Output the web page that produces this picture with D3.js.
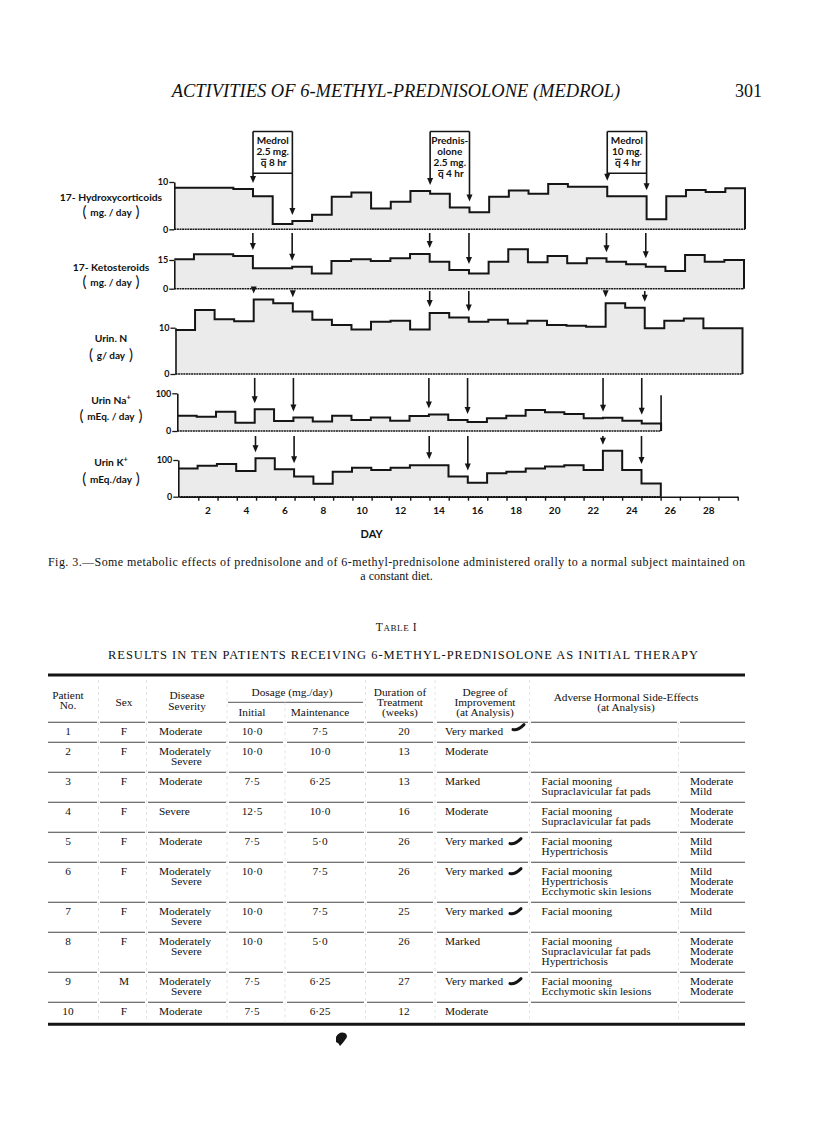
<!DOCTYPE html>
<html><head><meta charset="utf-8">
<script src="https://cdn.jsdelivr.net/npm/d3@7"></script>
<style>
body{margin:0;background:#fff;}
svg{display:block;}
.serif{font-family:"Liberation Serif","Times New Roman",serif;fill:#111;}
.lab{font-family:Lato,"DejaVu Sans",sans-serif;font-weight:700;fill:#111;}
</style></head><body>
<svg id="page" width="816" height="1131"></svg>
<script>
// ---- chart data, one value per day ----
var dayTicks = [2,4,6,8,10,12,14,16,18,20,22,24,26,28];
var hydroxy = [8.8,8.8,8.8,8.5,7.0,1.1,1.75,3.1,6.9,7.8,4.4,5.8,8.1,7.5,4.6,3.6,6.9,8.2,7.5,9.6,9.0,9.0,7.0,7.0,2.1,7.0,8.3,7.9,8.7];
var keto = [15.4,18.0,18.0,17.1,10.7,10.7,11.5,8.0,14.5,15.4,14.5,15.9,18.1,14.1,9.8,8.0,14.1,20.6,13.8,17.1,13.3,15.9,14.1,12.8,11.5,9.3,17.6,14.1,15.0];
var urinN = [9.5,13.8,11.8,11.4,16.1,15.3,13.5,11.7,10.6,9.6,11.3,11.5,9.6,13.2,12.2,11.3,11.7,10.9,11.5,10.6,10.4,10.2,15.3,14.3,9.9,11.5,12.0,9.9,9.9];
var urinNa = [40.6,38,51,22,57.5,26.5,36,25,40.6,29,36,27,40,44,29,24,34,40.6,56,50,45,34,35,27,20];
var urinK = [77,84,89,70,105,75,55,35,68,79,73,79,86,86,55,38,64,68,77,82,86,73,125,73,36];
// drug periods: start / end day boundaries
var doseChanges = [4,6,13,15,22,24];
var boxSpans = [[4,6],[13,15],[22,24]];
var boxText = [["Medrol","2.5 mg.","8 hr"],["Prednis-","olone","2.5 mg.","4 hr"],["Medrol","10 mg.","4 hr"]];

// ---- table data ----
var patientNo = ["1","2","3","4","5","6","7","8","9","10"];
var sex = ["F","F","F","F","F","F","F","F","M","F"];
var severity = ["Moderate","Moderately|Severe","Moderate","Severe","Moderate","Moderately|Severe","Moderately|Severe","Moderately|Severe","Moderately|Severe","Moderate"];
var initialDose = ["10·0","10·0","7·5","12·5","7·5","10·0","10·0","10·0","7·5","7·5"];
var maintDose = ["7·5","10·0","6·25","10·0","5·0","7·5","7·5","5·0","6·25","6·25"];
var duration = ["20","13","13","16","26","26","25","26","27","12"];
var improvement = ["Very marked","Moderate","Marked","Moderate","Very marked","Very marked","Very marked","Marked","Very marked","Moderate"];
var sideEffects = [[],[],["Facial mooning","Supraclavicular  fat  pads"],["Facial mooning","Supraclavicular  fat  pads"],["Facial mooning","Hypertrichosis"],["Facial mooning","Hypertrichosis","Ecchymotic skin lesions"],["Facial mooning"],["Facial mooning","Supraclavicular  fat  pads","Hypertrichosis"],["Facial mooning","Ecchymotic skin lesions"],[]];
var sideGrade = [[],[],["Moderate","Mild"],["Moderate","Moderate"],["Mild","Mild"],["Mild","Moderate","Moderate"],["Mild"],["Moderate","Moderate","Moderate"],["Moderate","Moderate"],[]];

var svg = d3.select("#page");
var ink = "#151515";

// page header
svg.append("text").attr("class","serif").attr("x",396).attr("y",97)
    .attr("text-anchor","middle").style("font-style","italic").style("font-size","18.5px")
    .text("ACTIVITIES OF 6-METHYL-PREDNISOLONE (MEDROL)");
svg.append("text").attr("class","serif").attr("x",762).attr("y",97)
    .attr("text-anchor","end").style("font-size","18px").text("301");

// ---- panels ----
var panels = [
    {name:["17- Hydroxycorticoids","mg. / day"], values:hydroxy, max:10, x0:174.3, x1:745, yTop:182, yBase:229.3, labelY:[201,217]},
    {name:["17- Ketosteroids","mg. / day"], values:keto, max:15, x0:174.3, x1:744, yTop:260, yBase:288.7, labelY:[271,287], arrowFrom:233},
    {name:["Urin. N","g/ day"], values:urinN, max:10, x0:175.5, x1:742.5, yTop:327.7, yBase:374, labelY:[342,360], arrowFrom:291},
    {name:["Urin Na","mEq. / day"], sup:"+", values:urinNa, max:100, x0:177.3, x1:738.5, yTop:393.3, yBase:431, labelY:[404,421], arrowFrom:378, edgeTo:95},
    {name:["Urin K","mEq./day"], sup:"+", values:urinK, max:100, x0:178.3, x1:738, yTop:460, yBase:496.7, labelY:[466,484], arrowFrom:436}
];

function arrow(g, x, yFrom, yTip) {
    g.append("line").attr("x1",x).attr("x2",x).attr("y1",yFrom).attr("y2",yTip-5)
        .attr("stroke",ink).attr("stroke-width",1.6);
    g.append("path").attr("d","M"+(x-3)+","+(yTip-7)+"L"+(x+3)+","+(yTip-7)+"L"+x+","+yTip+"Z")
        .attr("fill",ink);
}

panels.forEach(function (p, pi) {
    var x = d3.scaleLinear().domain([0,29]).range([p.x0,p.x1]);
    var y = d3.scaleLinear().domain([0,p.max]).range([p.yBase,p.yTop]);
    var g = svg.append("g");
    var n = p.values.length;
    var pts = p.values.map(function (v, i) { return [i, v]; });
    pts.push([n, p.values[n-1]]);

    g.append("path").datum(pts)
        .attr("d", d3.area().curve(d3.curveStepAfter)
            .x(function (d) { return x(d[0]); }).y0(y(0)).y1(function (d) { return y(d[1]); }))
        .attr("fill","#ebebeb");

    var outline = pts.concat([[n, 0]]);
    g.append("path").datum(outline)
        .attr("d", d3.line().curve(d3.curveStepAfter)
            .x(function (d) { return x(d[0]); }).y(function (d) { return y(d[1]); }))
        .attr("fill","none").attr("stroke",ink).attr("stroke-width",2);

    if (p.edgeTo) {
        g.append("line").attr("x1",x(n)).attr("x2",x(n)).attr("y1",y(0)).attr("y2",y(p.edgeTo))
            .attr("stroke",ink).attr("stroke-width",1.6);
    }

    // baseline
    g.append("line").attr("x1",x(0)).attr("x2",x(n)).attr("y1",y(0)).attr("y2",y(0))
        .attr("stroke",ink).attr("stroke-width",1.6).attr("stroke-dasharray","2,0.6");

    // y axis
    var ya = g.append("g").attr("transform","translate("+x(0)+",0)")
        .call(d3.axisLeft(y).tickValues([0,p.max]).tickSize(5).tickSizeOuter(0).tickPadding(1));
    ya.select(".domain").attr("stroke",ink).attr("stroke-width",1.6);
    ya.selectAll(".tick line").attr("stroke",ink).attr("stroke-width",1.3);
    ya.selectAll(".tick text").attr("class","lab").style("font-size","9px").attr("fill",ink);

    // label
    var t1 = g.append("text").attr("class","lab").attr("x",111).attr("y",p.labelY[0])
        .attr("text-anchor","middle").style("font-size","10.3px").text(p.name[0]);
    if (p.sup) t1.append("tspan").attr("dy",-4).style("font-size","7.5px").text(p.sup);
    var t2 = g.append("text").attr("class","lab").attr("x",111).attr("y",p.labelY[1])
        .attr("text-anchor","middle").style("font-size","10px");
    t2.append("tspan").style("font-size","15px").style("font-weight","400").text("( ");
    t2.append("tspan").attr("dy",-1).text(p.name[1]);
    t2.append("tspan").attr("dy",1).style("font-size","15px").style("font-weight","400").text(" )");

    // arrows at dose changes
    if (pi > 0) {
        doseChanges.forEach(function (b) {
            var tip = y(Math.max(p.values[b-1], p.values[b])) - 6;
            arrow(g, x(b), p.arrowFrom, tip);
        });
    }

    if (pi === 0) {
        boxSpans.forEach(function (s, k) {
            var xa = x(s[0]), xb = x(s[1]), top = 131.5;
            var tipA = y(Math.max(p.values[s[0]-1], p.values[s[0]])) - 6;
            var tipB = y(Math.max(p.values[s[1]-1], p.values[s[1]])) - 6;
            g.append("line").attr("x1",xa).attr("x2",xb).attr("y1",top).attr("y2",top)
                .attr("stroke",ink).attr("stroke-width",1.6);
            if (boxText[k].length < 4) {
                g.append("line").attr("x1",xa).attr("x2",xb).attr("y1",173.3).attr("y2",173.3)
                    .attr("stroke",ink).attr("stroke-width",1.6);
            }
            arrow(g, xa, top, tipA);
            arrow(g, xb, top, tipB);
            boxText[k].forEach(function (line, j) {
                var last = j === boxText[k].length-1;
                var ty = top + 12 + 11.2*j;
                var t = g.append("text").attr("class","lab").attr("x",(xa+xb)/2+(last?1:0))
                    .attr("y",ty).attr("text-anchor","middle").style("font-size","10px")
                    .text(last ? "q  " + line : line);
                if (last) {
                    // bar over the q
                    var node = t.node();
                    var sx = node.getStartPositionOfChar(0).x;
                    var w = node.getSubStringLength(0,1);
                    g.append("line").attr("x1",sx).attr("x2",sx+w).attr("y1",ty-6.6).attr("y2",ty-6.6)
                        .attr("stroke",ink).attr("stroke-width",1.1);
                }
            });
        });
    }

    // day axis under the last panel
    if (pi === panels.length-1) {
        var xd = d3.scaleLinear().domain([0,29]).range([179,737.7]);
        var ax = svg.append("g").attr("transform","translate(0,"+p.yBase+")")
            .call(d3.axisBottom(xd).tickValues(d3.range(1,30)).tickSize(4).tickSizeOuter(0).tickFormat(""));
        ax.select(".domain").attr("stroke",ink).attr("stroke-width",1.6);
        ax.selectAll(".tick line").attr("stroke",ink).attr("stroke-width",1.4);
        svg.append("g").selectAll("text").data(dayTicks).enter().append("text")
            .attr("class","lab").attr("x",function (d) { return xd(d-0.5); })
            .attr("y",p.yBase+17).attr("text-anchor","middle").style("font-size","10px")
            .text(function (d) { return d; });
        svg.append("text").attr("class","lab").attr("x",xd(10)).attr("y",p.yBase+41)
            .attr("text-anchor","middle").style("font-size","11px").text("DAY");
    }
});

// ---- caption ----
svg.append("text").attr("class","serif").attr("x",48).attr("y",565.5)
    .attr("textLength",697).attr("lengthAdjust","spacing").style("font-size","12px")
    .text("Fig. 3.\u2014Some metabolic effects of prednisolone and of 6-methyl-prednisolone administered orally to a normal subject maintained on");
svg.append("text").attr("class","serif").attr("x",396.5).attr("y",579.5)
    .attr("text-anchor","middle").style("font-size","12px").text("a constant diet.");

var tt = svg.append("text").attr("class","serif").attr("x",396.5).attr("y",631)
    .attr("text-anchor","middle").style("font-size","11.5px").style("letter-spacing","0.6px");
tt.append("tspan").text("T");
tt.append("tspan").style("font-size","9px").text("ABLE");
tt.append("tspan").text(" I");
svg.append("text").attr("class","serif").attr("x",108).attr("y",659)
    .attr("textLength",590).attr("lengthAdjust","spacing").style("font-size","12.5px")
    .text("RESULTS IN TEN PATIENTS RECEIVING 6-METHYL-PREDNISOLONE AS INITIAL THERAPY");

// ---- table ----
var tx0 = 48, tx1 = 745;
var segs = [[48,97],[100,145],[148,226],[229,283],[287,364],[367,433],[437,528],[531,677],[680,745]];
var fs = "11.3px";
var tg = svg.append("g");

tg.append("line").attr("x1",tx0).attr("x2",tx1).attr("y1",675).attr("y2",675)
    .attr("stroke",ink).attr("stroke-width",3);

function cell(x, y, s, anchor) {
    tg.append("text").attr("class","serif").attr("x",x).attr("y",y)
        .attr("text-anchor",anchor || "start").style("font-size",fs).text(s);
}
cell(68,699,"Patient","middle"); cell(68,709,"No.","middle");
cell(124,705.5,"Sex","middle");
cell(187,699,"Disease","middle"); cell(187,709.5,"Severity","middle");
cell(292,696,"Dosage (mg./day)","middle");
cell(252,715.5,"Initial","middle"); cell(320,715.5,"Maintenance","middle");
cell(400,696,"Duration of","middle"); cell(400,706,"Treatment","middle"); cell(400,716,"(weeks)","middle");
cell(485,696,"Degree of","middle"); cell(485,706,"Improvement","middle"); cell(485,716,"(at Analysis)","middle");
cell(626,700.5,"Adverse Hormonal Side-Effects","middle"); cell(626,710.5,"(at Analysis)","middle");
tg.append("line").attr("x1",228).attr("x2",363).attr("y1",702.3).attr("y2",702.3)
    .attr("stroke","#555").attr("stroke-width",1);

function ruleRow(yy) {
    segs.forEach(function (s) {
        tg.append("line").attr("x1",s[0]).attr("x2",s[1]).attr("y1",yy).attr("y2",yy)
            .attr("stroke","#444").attr("stroke-width",1.1);
    });
}
ruleRow(722.3);

var yRow = 722.3;
var checkRows = [];
patientNo.forEach(function (no, i) {
    var sev = severity[i].split("|");
    var lines = Math.max(sev.length, sideEffects[i].length, 1);
    var base = yRow + 12.3;
    cell(68, base, no, "middle");
    cell(124, base, sex[i], "middle");
    sev.forEach(function (s, j) { cell(159 + (j ? 12 : 0), base + 10*j, s); });
    cell(252, base, initialDose[i], "middle");
    cell(320, base, maintDose[i], "middle");
    cell(404, base, duration[i], "middle");
    cell(445, base, improvement[i]);
    if (improvement[i] === "Very marked") checkRows.push([i, base]);
    sideEffects[i].forEach(function (s, j) { cell(541.5, base + 10*j, s); });
    sideGrade[i].forEach(function (s, j) { cell(690, base + 10*j, s); });
    yRow += 10*lines + 10;
    if (i < patientNo.length-1) ruleRow(yRow);
});
tg.append("line").attr("x1",tx0).attr("x2",tx1).attr("y1",1024.3).attr("y2",1024.3)
    .attr("stroke",ink).attr("stroke-width",3);

// faint column dividers
[98.5,146.5,227,285,365.5,435,529.5,678.5].forEach(function (xv) {
    var top = xv === 285 ? 702.3 : (xv === 678.5 ? 722.3 : 680);
    tg.append("line").attr("x1",xv).attr("x2",xv).attr("y1",top).attr("y2",1021)
        .attr("stroke","#dddddd").attr("stroke-width",0.8).attr("stroke-dasharray","3,3");
});

// hand-made ink ticks after "Very marked"
checkRows.forEach(function (c) {
    var cx = c[0] === 0 ? 513 : 510, cy = c[1] - (c[0] === 0 ? 6 : 2);
    tg.append("path").attr("d","M"+cx+","+(cy+1)+" q5,1 11,-5")
        .attr("fill","none").attr("stroke",ink).attr("stroke-width",3).attr("stroke-linecap","round");
});
svg.append("path").attr("d","M336,1037 q3,-6 9,-4 q4,3 0,7 q-2,3 -5,6 q-1,-3 -4,-4 z").attr("fill",ink);
</script>
</body></html>
